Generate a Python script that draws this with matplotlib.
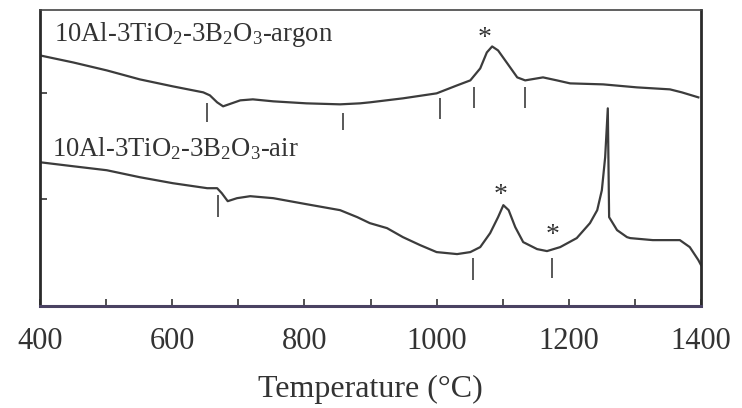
import matplotlib.pyplot as plt

plt.rcParams['font.family'] = ['Liberation Serif', 'DejaVu Serif']
plt.rcParams['mathtext.fontset'] = 'custom'
plt.rcParams['mathtext.rm'] = 'Liberation Serif'
plt.rcParams['mathtext.it'] = 'Liberation Serif'

# DTA traces (signal in arbitrary units)
argon_temp = [400, 450, 501, 551, 601, 647, 657, 668, 677, 690, 703, 722, 753,
              803, 854, 884, 899, 949, 1000, 1031, 1051, 1066, 1076, 1084,
              1093, 1107, 1122, 1134, 1161, 1182, 1202, 1252, 1303, 1353,
              1371, 1396]
argon_sig = [251, 244, 236, 227, 220, 214, 211, 204, 200, 203, 206, 207, 205,
             203, 202, 203, 204, 208, 213, 221, 226, 238, 254, 260,
             256, 243, 229, 226, 229, 226, 223, 222, 219, 217,
             214, 209]

air_temp = [400, 450, 501, 551, 601, 653, 668, 675, 684, 698, 718, 753, 803,
            854, 880, 899, 925, 949, 975, 1000, 1031, 1051, 1066, 1081, 1093,
            1101, 1109, 1119, 1131, 1152, 1167, 1187, 1212, 1232, 1243, 1250,
            1255, 1259, 1261, 1273, 1288, 1293, 1327, 1368, 1383, 1396, 1400]
air_sig = [144, 140, 136, 129, 123, 118, 118, 113, 105, 108, 110, 108, 102,
           96, 89, 83, 78, 69, 61, 54, 52, 54, 59, 73, 89,
           101, 96, 79, 64, 57, 55, 59, 68, 83, 96, 116,
           149, 198, 89, 76, 69, 68, 66, 66, 59, 46, 41]

# short vertical markers and asterisks
argon_marks = [653, 858, 1005, 1057, 1134]
argon_mark_lo = [184, 176, 187, 198, 198]
argon_mark_hi = [203, 193, 208, 219, 219]
air_marks = [669, 1055, 1175]
air_mark_lo = [89, 26, 28]
air_mark_hi = [111, 48, 48]
argon_star = [1073]
argon_star_y = [268]
air_star = [1097, 1175]
air_star_y = [111, 71]

line_col = '#3c3c3c'

fig = plt.figure(figsize=(7.42, 4.08), dpi=100)
ax = fig.add_axes([40 / 742, 102 / 408, 661 / 742, 296.5 / 408])

ax.plot(argon_temp, argon_sig, color=line_col, lw=1.6)
ax.plot(air_temp, air_sig, color=line_col, lw=1.6)
ax.vlines(argon_marks, argon_mark_lo, argon_mark_hi, color=line_col, lw=1.2)
ax.vlines(air_marks, air_mark_lo, air_mark_hi, color=line_col, lw=1.2)
for t, s in zip(argon_star + air_star, argon_star_y + air_star_y):
    ax.text(t, s, '*', fontsize=20, ha='center', va='center', color='#333333')

ax.text(421, 272, '10Al-3TiO$_2$-3B$_2$O$_3$-argon', fontsize=19.2,
        ha='left', va='center', color='#333333')
ax.text(418, 158, '10Al-3TiO$_2$-3B$_2$O$_3$-air', fontsize=19.2,
        ha='left', va='center', color='#333333')

ax.set_xlim(400, 1400)
ax.set_ylim(0, 297)
ax.set_xticks([400, 600, 800, 1000, 1200, 1400])
ax.set_xticks(range(500, 1400, 200), minor=True)
ax.set_yticks([107, 213])
ax.set_yticklabels([])
ax.tick_params(axis='x', which='both', direction='in', length=5, width=1.2,
               labelsize=22, pad=15, colors='#333333')
ax.tick_params(axis='y', direction='in', length=5, width=1.2, colors='#333333')
ax.set_xlabel('Temperature (°C)', fontsize=23, labelpad=14, color='#333333')

ax.spines['left'].set_linewidth(2)
ax.spines['left'].set_color('#2a2a2a')
ax.spines['right'].set_linewidth(2)
ax.spines['right'].set_color('#2a2a2a')
ax.spines['bottom'].set_linewidth(2.2)
ax.spines['bottom'].set_color('#4a4262')
ax.spines['top'].set_linewidth(1.2)
ax.spines['top'].set_color('#444444')

fig.savefig('out.png', dpi=100)
